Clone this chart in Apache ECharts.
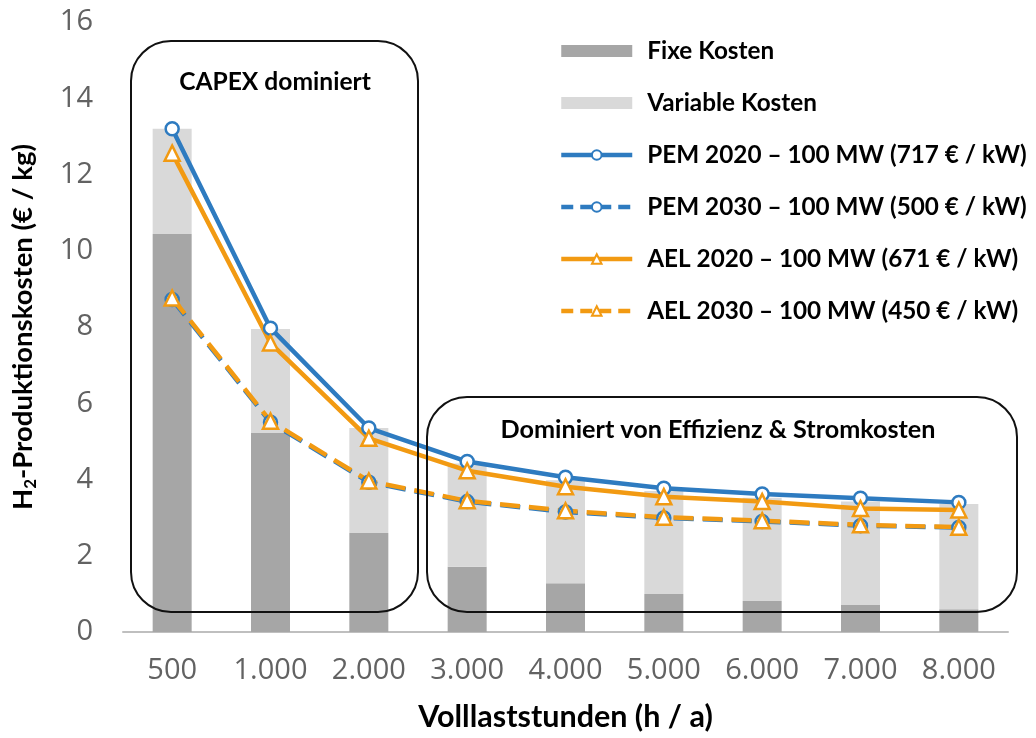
<!DOCTYPE html>
<html>
<head>
<meta charset="utf-8">
<script src="https://cdn.jsdelivr.net/npm/echarts@6/dist/echarts.min.js"></script>
<style>
  html, body { margin: 0; padding: 0; background: #fff; }
  #chart { width: 1036px; height: 738px; }
</style>
</head>
<body>
<div id="chart"></div>
<script>
// Full-load hours per year
const hours = ['500', '1.000', '2.000', '3.000', '4.000', '5.000', '6.000', '7.000', '8.000'];

// Stacked cost components (€ / kg)
const fixeKosten     = [10.44, 5.22, 2.60, 1.71, 1.28, 1.00, 0.81, 0.71, 0.60];
const variableKosten = [2.76, 2.73, 2.75, 2.71, 2.70, 2.70, 2.71, 2.71, 2.76];

// Production cost curves (€ / kg)
const pem2020 = [13.20, 7.97, 5.35, 4.47, 4.06, 3.77, 3.62, 3.51, 3.40];
const pem2030 = [8.72, 5.50, 3.93, 3.42, 3.15, 2.99, 2.90, 2.79, 2.74];
const ael2020 = [12.56, 7.58, 5.08, 4.23, 3.81, 3.55, 3.42, 3.24, 3.20];
const ael2030 = [8.76, 5.53, 3.96, 3.44, 3.18, 3.01, 2.92, 2.81, 2.75];

const yTicks = { min: 0, max: 16, interval: 2 };

const BLUE = '#2E7BC0';
const ORANGE = '#F29A12';
const LINE_W = 4.5;
const DASH = [20, 9];
const boldFont = 'Lato';
const tickFont = '"Open Sans"';

const names = {
  pem2020: 'PEM 2020 – 100 MW (717 € / kW)',
  pem2030: 'PEM 2030 – 100 MW (500 € / kW)',
  ael2020: 'AEL 2020 – 100 MW (671 € / kW)',
  ael2030: 'AEL 2030 – 100 MW (450 € / kW)'
};

function lineSeries(name, data, color, symbol, dashed) {
  return {
    name: name,
    type: 'line',
    data: data,
    symbol: symbol,
    symbolSize: symbol === 'circle' ? 13 : 15,
    showAllSymbol: true,
    z: 5,
    lineStyle: { color: color, width: LINE_W, type: dashed ? DASH : 'solid' },
    itemStyle: { color: '#fff', borderColor: color, borderWidth: 2.5 },
    emphasis: { disabled: true }
  };
}

function legendLine(name, dashed) {
  return { name: name, lineStyle: { width: LINE_W, type: dashed ? [12, 7] : 'solid' } };
}

const chart = echarts.init(document.getElementById('chart'), null, { renderer: 'canvas' });

chart.setOption({
  animation: false,
  backgroundColor: '#fff',
  grid: { left: 123, right: 28, top: 22, bottom: 106, containLabel: false },
  legend: {
    orient: 'vertical',
    left: 554,
    top: 32,
    itemWidth: 71,
    itemHeight: 12,
    itemGap: 24,
    textStyle: { fontFamily: boldFont, fontWeight: 'bold', fontSize: 24.3, color: '#000', lineHeight: 28, padding: [0, 0, 0, 10] },
    data: [
      { name: 'Fixe Kosten', icon: 'rect' },
      { name: 'Variable Kosten', icon: 'rect' },
      legendLine(names.pem2020, false),
      legendLine(names.pem2030, true),
      legendLine(names.ael2020, false),
      legendLine(names.ael2030, true)
    ]
  },
  xAxis: {
    type: 'category',
    data: hours,
    name: 'Volllaststunden (h / a)',
    nameLocation: 'middle',
    nameGap: 70,
    nameTextStyle: { fontFamily: boldFont, fontWeight: 'bold', fontSize: 30.5, color: '#000' },
    axisLine: { lineStyle: { color: '#BFBFBF', width: 2 } },
    axisTick: { show: false },
    axisLabel: { fontFamily: tickFont, fontSize: 29, color: '#626262', margin: 24 }
  },
  yAxis: {
    type: 'value',
    min: yTicks.min,
    max: yTicks.max,
    interval: yTicks.interval,
    name: '{b|H}{s|2}{b|-Produktionskosten (€ / kg)}',
    nameLocation: 'middle',
    nameGap: 84,
    nameTextStyle: {
      rich: {
        b: { fontFamily: boldFont, fontWeight: 'bold', fontSize: 27.5, color: '#000', lineHeight: 32 },
        s: { fontFamily: boldFont, fontWeight: 'bold', fontSize: 17, color: '#000', lineHeight: 18, verticalAlign: 'bottom' }
      }
    },
    splitLine: { show: false },
    axisLine: { show: false },
    axisTick: { show: false },
    axisLabel: { fontFamily: tickFont, fontSize: 29, color: '#626262', margin: 30 }
  },
  series: [
    {
      name: 'Fixe Kosten', type: 'bar', stack: 'kosten', data: fixeKosten,
      barWidth: 39, itemStyle: { color: '#A6A6A6' }, z: 2, emphasis: { disabled: true }
    },
    {
      name: 'Variable Kosten', type: 'bar', stack: 'kosten', data: variableKosten,
      barWidth: 39, itemStyle: { color: '#D9D9D9' }, z: 2, emphasis: { disabled: true }
    },
    lineSeries(names.pem2020, pem2020, BLUE, 'circle', false),
    lineSeries(names.pem2030, pem2030, BLUE, 'circle', true),
    lineSeries(names.ael2020, ael2020, ORANGE, 'triangle', false),
    lineSeries(names.ael2030, ael2030, ORANGE, 'triangle', true)
  ],
  graphic: [
    {
      type: 'rect', z: 100, silent: true,
      shape: { x: 131, y: 41, width: 287, height: 571, r: 40 },
      style: { fill: 'none', stroke: '#111', lineWidth: 2 }
    },
    {
      type: 'text', z: 100, silent: true, x: 275, y: 82,
      style: { text: 'CAPEX dominiert', fontFamily: boldFont, fontWeight: 'bold', fontSize: 24.6, fill: '#000', align: 'center', verticalAlign: 'middle' }
    },
    {
      type: 'rect', z: 100, silent: true,
      shape: { x: 427, y: 397, width: 590, height: 215, r: 40 },
      style: { fill: 'none', stroke: '#111', lineWidth: 2 }
    },
    {
      type: 'text', z: 100, silent: true, x: 718, y: 430,
      style: { text: 'Dominiert von Effizienz & Stromkosten', fontFamily: boldFont, fontWeight: 'bold', fontSize: 25.2, fill: '#000', align: 'center', verticalAlign: 'middle' }
    }
  ]
});
</script>
</body>
</html>
